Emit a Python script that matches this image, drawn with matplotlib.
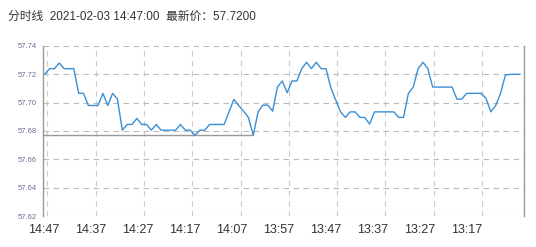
import matplotlib
matplotlib.use("Agg")
import matplotlib.pyplot as plt
import numpy as np

plt.rcParams['font.family'] = ['Liberation Sans', 'Noto Sans CJK SC', 'DejaVu Sans']

title_text = "分时线  2021-02-03 14:47:00  最新价：57.7200"
y_ticks = [57.62, 57.64, 57.66, 57.68, 57.70, 57.72, 57.74]
x_labels = ["14:47", "14:37", "14:27", "14:17", "14:07", "13:57", "13:47", "13:37", "13:27", "13:17"]

prices = [
    57.720, 57.724, 57.724, 57.728, 57.724, 57.724, 57.724, 57.7066, 57.7066, 57.698,
    57.698, 57.698, 57.7066, 57.698, 57.7066, 57.7025, 57.6806, 57.6846, 57.6846, 57.6889,
    57.6846, 57.6846, 57.6806, 57.6846, 57.6806, 57.6806, 57.6806, 57.6806, 57.6846, 57.6806,
    57.6806, 57.677, 57.6806, 57.6806, 57.6846, 57.6846, 57.6846, 57.6846, 57.6935, 57.7023,
    57.698, 57.694, 57.6896, 57.677, 57.6935, 57.6983, 57.6983, 57.694, 57.7112, 57.7153,
    57.707, 57.7153, 57.7153, 57.724, 57.7285, 57.724, 57.7285, 57.724, 57.724, 57.7105,
    57.702, 57.6935, 57.6896, 57.6935, 57.6935, 57.6896, 57.6896, 57.6849, 57.6935, 57.6935,
    57.6935, 57.6935, 57.6935, 57.6896, 57.6896, 57.7066, 57.711, 57.724, 57.7285, 57.724,
    57.711, 57.711, 57.711, 57.711, 57.711, 57.7025, 57.7025, 57.7066, 57.7066, 57.7066,
    57.7066, 57.703, 57.6935, 57.698, 57.7066, 57.7195, 57.720, 57.720, 57.720,
]
low_value = 57.677
low_index = 43

x = np.arange(len(prices))

fig = plt.figure(figsize=(5.36, 2.47), dpi=100)
ax = fig.add_axes([0.0797, 0.1255, 0.8985, 0.6883])

ax.set_xlim(-0.41, 98.9)
ax.set_ylim(57.62, 57.74)

# grid
grid_pos = [0.54 + 9.96 * k for k in range(10)]
for gx in grid_pos:
    ax.axvline(gx, color="#cccccc", lw=0.8, ls=(0, (5, 4)), zorder=0)
for gy in y_ticks:
    ax.axhline(gy, color="#bbbbbb", lw=0.8, ls=(0, (5, 4)), zorder=0)

ax.plot(x, prices, color="#3a8fd6", lw=1.0, zorder=3)
ax.hlines(low_value, -0.41, low_index, color="#999999", lw=1.0, zorder=2)

ax.set_yticks(y_ticks)
ax.set_yticklabels([f"{v:.2f}" for v in y_ticks], fontsize=5.5, color="#6b6b9e")
label_pos = [-0.25 + 9.70 * k for k in range(len(x_labels))]
ax.set_xticks(label_pos)
ax.set_xticklabels(x_labels, fontsize=9, color="#333333")
ax.tick_params(axis="both", length=0)
ax.tick_params(axis="x", pad=6)
ax.tick_params(axis="y", pad=4)

for s in ["top", "bottom"]:
    ax.spines[s].set_visible(False)
ax.spines["left"].set_color("#999999")
ax.spines["right"].set_color("#999999")
ax.spines["left"].set_linewidth(1.0)
ax.spines["right"].set_linewidth(1.0)

fig.text(8 / 536, 1 - 17 / 247, title_text, fontsize=8.5, color="#333333", va="center", ha="left")

fig.savefig("out.png", dpi=100)
